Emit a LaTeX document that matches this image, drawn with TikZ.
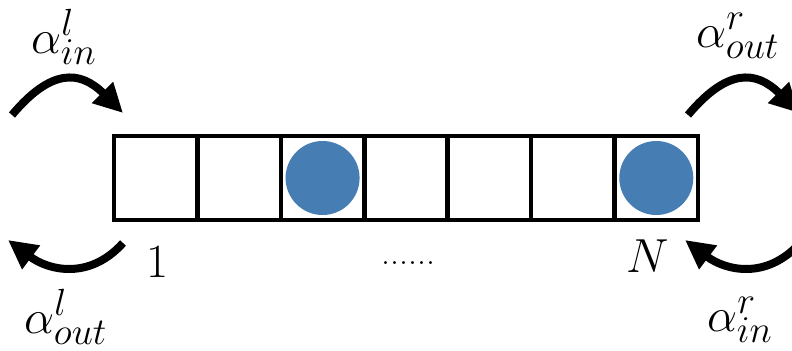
\RequirePackage{fix-cm}
\documentclass[tikz,border=0pt]{standalone}
\usetikzlibrary{arrows.meta}
\definecolor{ballblue}{RGB}{70,125,178}
\DeclareMathSizes{48}{48}{38}{30}
\begin{document}
\begin{tikzpicture}[x=1bp,y=1bp,
  cellbox/.style={draw,line width=4.5bp,minimum width=83.43bp,minimum height=84bp,inner sep=0,outer sep=0},
  ball/.style={circle,fill=ballblue,minimum size=74bp,inner sep=0},
  bigarrow/.style={line width=8bp,-{Triangle[length=29bp,width=28bp]}},
  lbl/.style={inner sep=0,anchor=base west,font=\fontsize{48}{58}\selectfont},
  dotlbl/.style={inner sep=0,anchor=base west,font=\fontsize{36}{44}\selectfont}]
\useasboundingbox (0,0) rectangle (792,350);
\clip (0,0) rectangle (792,350);
% cells
\foreach \i in {1,...,7}{
  \node[cellbox] (c\i) at ({114+83.43*(\i-0.5)},172) {};
}
\node[ball] (b3) at (c3.center) {};
\node[ball] (b7) at (c7.center) {};
% arrow end points
\coordinate (lis) at (12,235);
\coordinate (lie) at (123,237);
\coordinate (los) at (123,107);
\coordinate (loe) at (8,110);
\coordinate (ros) at (688,235);
\coordinate (roe) at (799,237);
\coordinate (ris) at (800,107);
\coordinate (rie) at (685,110);
\draw[bigarrow] (lis) to[out=50,in=135,looseness=1.4] (lie);
\draw[bigarrow] (los) to[out=228,in=-37,looseness=1.12] (loe);
\draw[bigarrow] (ros) to[out=50,in=135,looseness=1.4] (roe);
\draw[bigarrow] (ris) to[out=228,in=-37,looseness=1.12] (rie);
% labels
\node[lbl] (ain) at (31,297) {$\alpha^l_{in}$};
\node[lbl] (aout) at (24,17) {$\alpha^l_{out}$};
\node[lbl] (arout) at (696,303) {$\alpha^r_{out}$};
\node[lbl] (arin) at (707,19) {$\alpha^r_{in}$};
\node[lbl] (one) at (146,73) {$1$};
\node[lbl] (en) at (626,78) {$N$};
\node[dotlbl] (dots) at (381,86) {......};
\end{tikzpicture}
\end{document}
